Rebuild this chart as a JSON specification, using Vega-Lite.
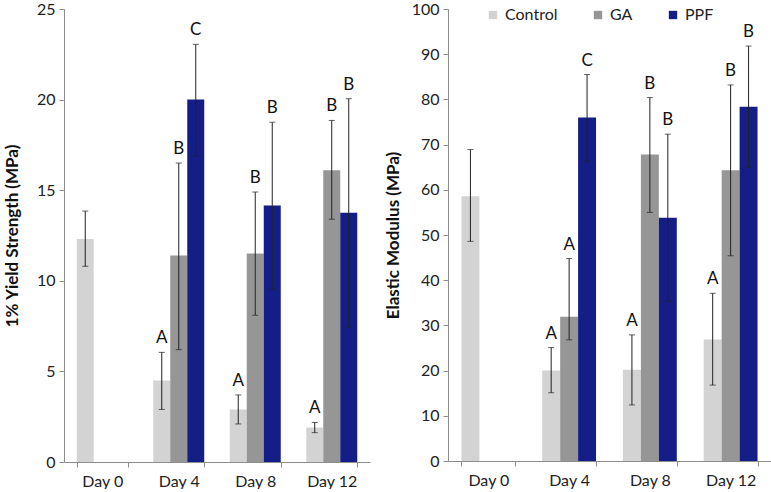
{
  "$schema": "https://vega.github.io/schema/vega-lite/v6.json",
  "padding": {"left": 3, "top": 1, "right": 0, "bottom": 0},
  "spacing": 14,
  "background": "white",
  "config": {
    "view": {"stroke": null},
    "font": "Lato",
    "axis": {
      "labelFont": "Lato", "labelFontSize": 16, "labelColor": "#222222",
      "titleFont": "Lato", "titleFontSize": 17, "titleFontWeight": "bold", "titleColor": "#111111",
      "domainColor": "#8c8c8c", "tickColor": "#8c8c8c", "grid": false, "tickSize": 5, "labelPadding": 4
    }
  },
  "datasets": {
    "ys": [
      {"day": "Day 0", "group": "Control", "value": 12.3, "lo": 10.8, "hi": 13.85, "letter": ""},
      {"day": "Day 4", "group": "Control", "value": 4.5, "lo": 2.9, "hi": 6.05, "letter": "A"},
      {"day": "Day 4", "group": "GA", "value": 11.4, "lo": 6.2, "hi": 16.5, "letter": "B"},
      {"day": "Day 4", "group": "PPF", "value": 20.0, "lo": 16.9, "hi": 23.05, "letter": "C"},
      {"day": "Day 8", "group": "Control", "value": 2.9, "lo": 2.1, "hi": 3.7, "letter": "A"},
      {"day": "Day 8", "group": "GA", "value": 11.5, "lo": 8.1, "hi": 14.9, "letter": "B"},
      {"day": "Day 8", "group": "PPF", "value": 14.15, "lo": 9.55, "hi": 18.75, "letter": "B"},
      {"day": "Day 12", "group": "Control", "value": 1.9, "lo": 1.62, "hi": 2.18, "letter": "A"},
      {"day": "Day 12", "group": "GA", "value": 16.1, "lo": 13.4, "hi": 18.85, "letter": "B"},
      {"day": "Day 12", "group": "PPF", "value": 13.75, "lo": 7.45, "hi": 20.05, "letter": "B"}
    ],
    "em": [
      {"day": "Day 0", "group": "Control", "value": 58.6, "lo": 48.6, "hi": 68.9, "letter": ""},
      {"day": "Day 4", "group": "Control", "value": 20.0, "lo": 15.1, "hi": 25.1, "letter": "A"},
      {"day": "Day 4", "group": "GA", "value": 31.9, "lo": 26.8, "hi": 44.8, "letter": "A"},
      {"day": "Day 4", "group": "PPF", "value": 76.0, "lo": 66.3, "hi": 85.5, "letter": "C"},
      {"day": "Day 8", "group": "Control", "value": 20.2, "lo": 12.4, "hi": 27.9, "letter": "A"},
      {"day": "Day 8", "group": "GA", "value": 67.8, "lo": 55.0, "hi": 80.4, "letter": "B"},
      {"day": "Day 8", "group": "PPF", "value": 53.8, "lo": 35.3, "hi": 72.3, "letter": "B"},
      {"day": "Day 12", "group": "Control", "value": 26.9, "lo": 16.8, "hi": 37.1, "letter": "A"},
      {"day": "Day 12", "group": "GA", "value": 64.3, "lo": 45.4, "hi": 83.2, "letter": "B"},
      {"day": "Day 12", "group": "PPF", "value": 78.4, "lo": 65.0, "hi": 91.8, "letter": "B"}
    ]
  },
  "resolve": {"scale": {"color": "independent", "y": "independent", "x": "independent", "xOffset": "independent"}, "legend": {"color": "independent"}},
  "hconcat": [
    {
      "width": 306, "height": 453,
      "data": {"name": "ys"},
      "encoding": {
        "x": {"field": "day", "type": "nominal", "sort": ["Day 0", "Day 4", "Day 8", "Day 12"],
              "scale": {"paddingInner": 0.3333, "paddingOuter": 0.1667},
              "axis": {"title": null, "labelAngle": 0, "tickBand": "extent", "labelPadding": 6}},
        "xOffset": {"field": "group", "type": "nominal", "sort": ["Control", "GA", "PPF"],
                    "scale": {"domain": ["Control", "GA", "PPF"], "paddingInner": 0, "paddingOuter": 0}}
      },
      "layer": [
        {"mark": {"type": "bar"},
         "encoding": {
           "y": {"field": "value", "type": "quantitative", "scale": {"domain": [0, 25], "nice": false},
                 "axis": {"title": "1% Yield Strength (MPa)", "values": [0, 5, 10, 15, 20, 25], "titlePadding": 15}},
           "color": {"field": "group", "type": "nominal", "legend": null,
                     "scale": {"domain": ["Control", "GA", "PPF"], "range": ["#D3D3D3", "#969696", "#141E86"]}}
         }},
        {"mark": {"type": "rule", "color": "#222222", "strokeWidth": 1},
         "encoding": {"y": {"field": "lo", "type": "quantitative"}, "y2": {"field": "hi"}}},
        {"mark": {"type": "tick", "color": "#222222", "thickness": 1, "size": 6},
         "encoding": {"y": {"field": "lo", "type": "quantitative"}}},
        {"mark": {"type": "tick", "color": "#222222", "thickness": 1, "size": 6},
         "encoding": {"y": {"field": "hi", "type": "quantitative"}}},
        {"mark": {"type": "text", "baseline": "bottom", "dy": -5, "fontSize": 17, "font": "Lato", "color": "#111111"},
         "encoding": {"y": {"field": "hi", "type": "quantitative"}, "text": {"field": "letter"}}}
      ]
    },
    {
      "width": 323, "height": 452,
      "data": {"name": "em"},
      "encoding": {
        "x": {"field": "day", "type": "nominal", "sort": ["Day 0", "Day 4", "Day 8", "Day 12"],
              "scale": {"paddingInner": 0.3333, "paddingOuter": 0.1667},
              "axis": {"title": null, "labelAngle": 0, "tickBand": "extent", "labelPadding": 6}},
        "xOffset": {"field": "group", "type": "nominal", "sort": ["Control", "GA", "PPF"],
                    "scale": {"domain": ["Control", "GA", "PPF"], "paddingInner": 0, "paddingOuter": 0}}
      },
      "layer": [
        {"mark": {"type": "bar"},
         "encoding": {
           "y": {"field": "value", "type": "quantitative", "scale": {"domain": [0, 100], "nice": false},
                 "axis": {"title": "Elastic Modulus (MPa)", "values": [0, 10, 20, 30, 40, 50, 60, 70, 80, 90, 100], "titlePadding": 9}},
           "color": {"field": "group", "type": "nominal",
                     "scale": {"domain": ["Control", "GA", "PPF"], "range": ["#D3D3D3", "#969696", "#141E86"]},
                     "legend": {"title": null, "orient": "none", "direction": "horizontal", "legendX": 37, "legendY": -2,
                                "symbolType": "square", "symbolSize": 70, "symbolStrokeWidth": 0,
                                "labelFontSize": 16, "labelFont": "Lato", "labelColor": "#222222", "labelOffset": 4,
                                "columnPadding": 32, "padding": 0}}
         }},
        {"mark": {"type": "rule", "color": "#222222", "strokeWidth": 1},
         "encoding": {"y": {"field": "lo", "type": "quantitative"}, "y2": {"field": "hi"}}},
        {"mark": {"type": "tick", "color": "#222222", "thickness": 1, "size": 6},
         "encoding": {"y": {"field": "lo", "type": "quantitative"}}},
        {"mark": {"type": "tick", "color": "#222222", "thickness": 1, "size": 6},
         "encoding": {"y": {"field": "hi", "type": "quantitative"}}},
        {"mark": {"type": "text", "baseline": "bottom", "dy": -5, "fontSize": 17, "font": "Lato", "color": "#111111"},
         "encoding": {"y": {"field": "hi", "type": "quantitative"}, "text": {"field": "letter"}}}
      ]
    }
  ]
}
